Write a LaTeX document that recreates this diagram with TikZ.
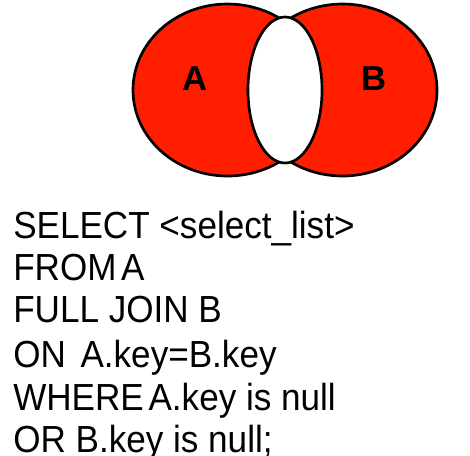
\documentclass[tikz,border=0pt]{standalone}
\usepackage{fontspec}
\setmainfont{Liberation Sans}
\newfontfamily\sqlfont[FakeStretch=0.93]{Liberation Sans}
\newcommand\tsp{\hspace{3.5pt}}
\usetikzlibrary{shapes.geometric}
\definecolor{vennred}{RGB}{255,30,0}

\begin{document}
\begin{tikzpicture}[
  x=0.75pt, y=-0.75pt,
  every node/.style={inner sep=0pt},
  set/.style={ellipse, draw, line width=2pt, fill=vennred,
    minimum width=141.75pt, minimum height=129pt},
  lens/.style={ellipse, draw, line width=2pt, fill=white,
    minimum width=55.5pt, minimum height=109.5pt},
  setname/.style={font=\bfseries\fontsize{26}{26}\selectfont},
  sqlline/.style={anchor=base west, font=\sqlfont\fontsize{28.3}{34}\selectfont}
]
\useasboundingbox (0,0) rectangle (470,455);
% the two sets, the white middle drawn over them
\node[set] (setA) at (227.5,90) {};
\node[set] (setB) at (342.5,90) {};
\node[lens] (mid) at (285,90) {};
\node[setname] (nameA) at (195,79) {A};
\node[setname] (nameB) at (374,79) {B};
% the query, one line per node
\foreach \yb/\txt [count=\i] in {238/SELECT \textless select\_list\textgreater,
    280/FROM\tsp A, 322/FULL JOIN B, 367/ON\hspace{11pt}A.key=B.key,
    410/WHERE\tsp A.key is null, 452/OR B.key is null;}
  \node[sqlline] (l\i) at (13,\yb) {\txt};
\end{tikzpicture}
\end{document}
